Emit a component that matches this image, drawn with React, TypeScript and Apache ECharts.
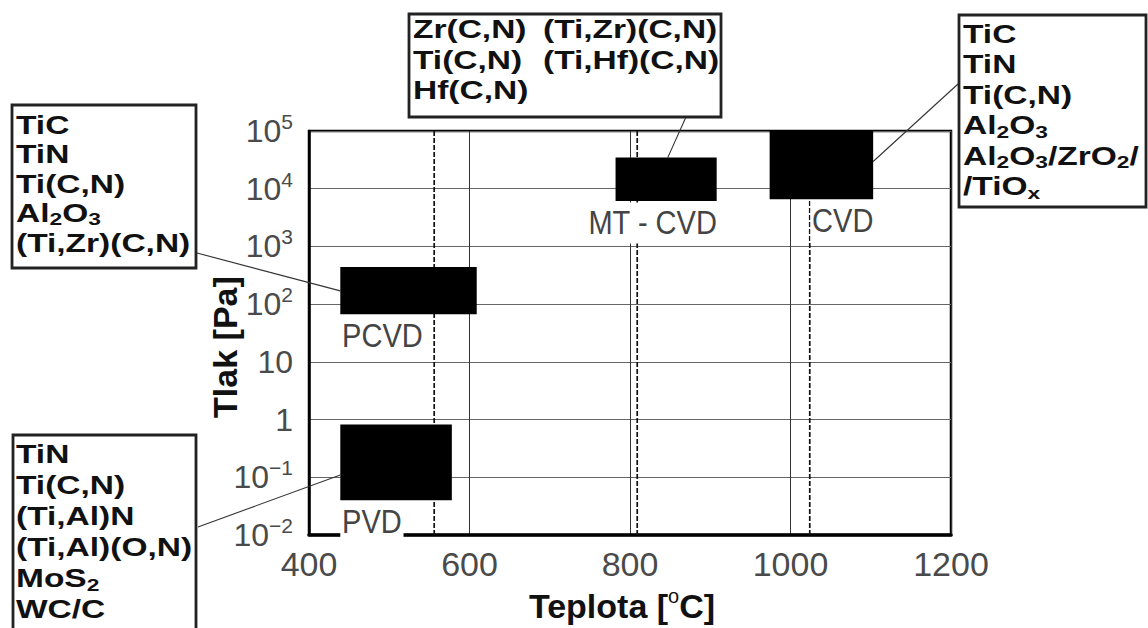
import React, { useEffect, useRef } from 'react';
import * as echarts from 'echarts';

// ---- data ----
const processNames = ['PVD', 'PCVD', 'MT - CVD', 'CVD'];
const tempFrom = [439, 439, 782, 974];
const tempTo = [578, 609, 908, 1103];
const pressureFrom = [0.04, 67, 6100, 6600];
const pressureTo = [0.82, 440, 34600, 100000];
const labelSide = ['left', 'left', 'right', 'right'];

const dashedTemps = [556, 809, 1024];

const tempMin = 400;
const tempMax = 1200;
const tempStep = 200;
const pressureMin = 0.01;
const pressureMax = 100000;

const pressureTicks = [0.01, 0.1, 1, 10, 100, 1000, 10000, 100000];
const pressureTickLabels = [
  '{b|10}{p|−2}',
  '{b|10}{p|−1}',
  '{b|1}',
  '{b|10}',
  '{b|10}{p|2}',
  '{b|10}{p|3}',
  '{b|10}{p|4}',
  '{b|10}{p|5}',
];

const pvdMaterials = ['TiN', 'Ti(C,N)', '(Ti,Al)N', '(Ti,Al)(O,N)', 'MoS{s|2}', 'WC/C'];
const pcvdMaterials = ['TiC', 'TiN', 'Ti(C,N)', 'Al{s|2}O{s|3}', '(Ti,Zr)(C,N)'];
const mtcvdMaterialsLeft = ['Zr(C,N)', 'Ti(C,N)', 'Hf(C,N)'];
const mtcvdMaterialsRight = ['(Ti,Zr)(C,N)', '(Ti,Hf)(C,N)'];
const cvdMaterials = ['TiC', 'TiN', 'Ti(C,N)', 'Al{s|2}O{s|3}', 'Al{s|2}O{s|3}/ZrO{s|2}/', '/TiO{s|x}'];

// leader line anchors on the process boxes (data space)
const leaderTemps = [439, 439, 847, 1103];
const leaderPressures = [0.11, 170, 34600, 29600];

const LIGHT = "'Liberation Sans', Arial, sans-serif";
const BOLD = "'Liberation Sans', Arial, sans-serif";

export default function App() {
  const ref = useRef<HTMLDivElement>(null);

  useEffect(() => {
    if (!ref.current) return;
    const chart = echarts.init(ref.current, undefined, { renderer: 'svg' });

    const boxes = processNames.map((n, i) => [tempFrom[i], tempTo[i], pressureFrom[i], pressureTo[i]]);

    chart.setOption({
      animation: false,
      backgroundColor: '#fff',
      grid: {
        left: 309,
        top: 131,
        width: 642,
        height: 410,
        show: true,
        borderColor: '#000',
        borderWidth: 2.5,
        backgroundColor: 'transparent',
      },
      xAxis: {
        type: 'value',
        min: tempMin,
        max: tempMax,
        interval: tempStep,
        axisLine: { show: true, onZero: false, lineStyle: { color: '#000', width: 3.5 } },
        axisTick: { show: false },
        splitLine: { show: true, lineStyle: { color: '#333', width: 1 } },
        axisLabel: {
          margin: 12,
          fontSize: 34,
          fontFamily: LIGHT,
          color: '#4a4a4a',
          formatter: (v: number) => String(v),
        },
        name: '{b|Teplota [}{p|o}{b|C]}',
        nameLocation: 'middle',
        nameGap: 45,
        nameTextStyle: {
          padding: [0, 16, 0, 0],
          rich: {
            b: { fontSize: 34, fontWeight: 'bold', fontFamily: BOLD, color: '#111', lineHeight: 40 },
            p: { fontSize: 20, fontFamily: BOLD, color: '#111', lineHeight: 20, verticalAlign: 'top' },
          },
        },
      },
      yAxis: {
        type: 'log',
        logBase: 10,
        min: pressureMin,
        max: pressureMax,
        splitNumber: 7,
        axisLine: { show: true, lineStyle: { color: '#000', width: 2.5 } },
        axisTick: { show: false },
        minorTick: { show: false },
        splitLine: { show: true, lineStyle: { color: '#666', width: 1.2 } },
        axisLabel: {
          margin: 16,
          formatter: (v: number) => {
            const i = pressureTicks.findIndex((t) => Math.abs(Math.log10(t) - Math.log10(v)) < 1e-6);
            return i >= 0 ? pressureTickLabels[i] : '';
          },
          rich: {
            b: { fontSize: 32, fontFamily: LIGHT, color: '#4a4a4a', lineHeight: 40 },
            p: { fontSize: 21, fontFamily: LIGHT, color: '#4a4a4a', lineHeight: 22, verticalAlign: 'top' },
          },
        },
        name: 'Tlak [Pa]',
        nameLocation: 'middle',
        nameRotate: 90,
        nameGap: 67,
        nameMoveOverlap: false,
        nameTextStyle: {
          fontSize: 34,
          fontWeight: 'bold',
          fontFamily: BOLD,
          color: '#111',
          padding: [0, 28, 0, 0],
        },
      },
      series: [
        {
          type: 'custom',
          name: 'dashed',
          z: 1,
          data: dashedTemps.map((t) => [t]),
          encode: { x: 0 },
          renderItem: (params: any, api: any) => {
            const t = api.value(0);
            const a = api.coord([t, pressureMax]);
            const b = api.coord([t, pressureMin]);
            return {
              type: 'line',
              shape: { x1: a[0], y1: a[1], x2: b[0], y2: b[1] },
              style: { stroke: '#111', lineWidth: 1.7, lineDash: [5, 2] },
            };
          },
        },
        {
          type: 'custom',
          name: 'processes',
          z: 3,
          data: boxes,
          encode: { x: [0, 1], y: [2, 3] },
          renderItem: (params: any, api: any) => {
            const i = params.dataIndex;
            const p0 = api.coord([api.value(0), api.value(3)]);
            const p1 = api.coord([api.value(1), api.value(2)]);
            const side = labelSide[i];
            return {
              type: 'group',
              children: [
                {
                  type: 'rect',
                  shape: { x: p0[0], y: p0[1], width: p1[0] - p0[0], height: p1[1] - p0[1] },
                  style: { fill: '#000' },
                },
                {
                  type: 'text',
                  x: side === 'left' ? p0[0] : p1[0] + 2,
                  y: p1[1] + 22,
                  scaleX: 0.88,
                  style: {
                    text: processNames[i],
                    x: 0,
                    y: 0,
                    align: side,
                    verticalAlign: 'middle',
                    fontSize: 33,
                    fontFamily: LIGHT,
                    fill: '#444',
                    backgroundColor: '#fff',
                    padding: [4, 2],
                  },
                },
              ],
            };
          },
        },
      ],
    });

    const toPx = (t: number, p: number) =>
      chart.convertToPixel({ xAxisIndex: 0, yAxisIndex: 0 }, [t, p]) as number[];

    const calloutEnds = [
      [198, 527],
      [197, 253],
      [686, 117],
      [958, 84],
    ];

    const leaders = leaderTemps.map((t, i) => {
      const a = toPx(t, leaderPressures[i]);
      return {
        type: 'line',
        z: 10,
        shape: { x1: calloutEnds[i][0], y1: calloutEnds[i][1], x2: a[0], y2: a[1] },
        style: { stroke: '#333', lineWidth: 1.1 },
      };
    });

    const richSub = {
      s: { fontSize: 17, fontWeight: 'bold', fontFamily: BOLD, fill: '#111', lineHeight: 17, verticalAlign: 'bottom' },
    };
    const textBlock = (lines: string[], x: number, y: number, lh: number) => ({
      type: 'text',
      z: 12,
      x,
      y,
      scaleX: 1.34,
      style: {
        text: lines.join('\n'),
        x: 0,
        y: 0,
        align: 'left',
        verticalAlign: 'top',
        fontSize: 25,
        fontWeight: 'bold',
        fontFamily: BOLD,
        fill: '#111',
        lineHeight: lh,
        rich: richSub,
      },
    });
    const frame = (x: number, y: number, w: number, h: number) => ({
      type: 'rect',
      z: 11,
      shape: { x, y, width: w, height: h },
      style: { fill: '#fff', stroke: '#222', lineWidth: 2.8 },
    });

    chart.setOption({
      graphic: [
        ...leaders,
        frame(12, 105, 184, 163),
        textBlock(pcvdMaterials, 16, 110, 29.5),
        frame(13, 435, 183, 210),
        textBlock(pvdMaterials, 16, 439, 31),
        frame(409, 14, 312, 103),
        textBlock(mtcvdMaterialsLeft, 413, 14, 30.5),
        textBlock(mtcvdMaterialsRight, 543, 14, 30.5),
        frame(959, 15, 187, 192),
        textBlock(cvdMaterials, 963, 19, 30.4),
      ],
    });

    return () => chart.dispose();
  }, []);

  return (
    <div
      ref={ref}
      style={{ position: 'absolute', left: 0, top: 0, width: 1148, height: 628 }}
    />
  );
}
